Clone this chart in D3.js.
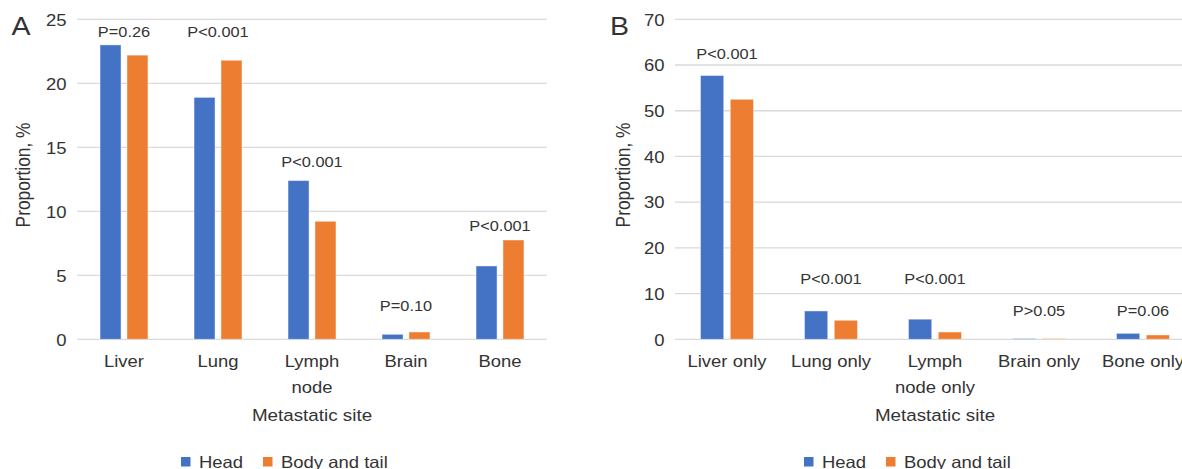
<!DOCTYPE html>
<html>
<head>
<meta charset="utf-8">
<script src="https://cdn.jsdelivr.net/npm/d3@7"></script>
<style>
  body { margin: 0; background: #fff; }
  svg { display: block; }
  text { font-family: "Liberation Sans", Arial, sans-serif; fill: #333; }
</style>
</head>
<body>
<div id="chart"></div>
<script>
// Series shared by both panels
var series = ["Head", "Body and tail"];
var colors = ["#4472C4", "#ED7D31"];

// Panel A: any metastasis
var sitesA = [["Liver"], ["Lung"], ["Lymph", "node"], ["Brain"], ["Bone"]];
var headA = [23.0, 18.9, 12.4, 0.39, 5.73];
var bodyA = [22.2, 21.8, 9.22, 0.57, 7.76];
var pTextA = ["P=0.26", "P<0.001", "P<0.001", "P=0.10", "P<0.001"];
var pLevelA = [23.6, 23.6, 13.5, 2.2, 8.45];   // where the p-value note sits, in axis units
var ticksA = [0, 5, 10, 15, 20, 25];

// Panel B: single-site metastasis
var sitesB = [["Liver only"], ["Lung only"], ["Lymph", "node only"], ["Brain only"], ["Bone only"]];
var headB = [57.7, 6.2, 4.4, 0.15, 1.3];
var bodyB = [52.5, 4.16, 1.6, 0.15, 0.95];
var pTextB = ["P<0.001", "P<0.001", "P<0.001", "P>0.05", "P=0.06"];
var pLevelB = [61.25, 12.1, 12.1, 5.16, 5.16];
var ticksB = [0, 10, 20, 30, 40, 50, 60, 70];

var W = 1182, H = 469;
var SX = 1.12; // the source picture is a bit wider than tall, so text is stretched too

var svg = d3.select("#chart").append("svg")
    .attr("width", W)
    .attr("height", H);

svg.append("rect").attr("width", W).attr("height", H).attr("fill", "#fff");

// text helper with the horizontal stretch
function label(g, x, y, str, size, anchor, rot) {
    return g.append("text")
        .attr("transform", "translate(" + x + "," + y + ") scale(" + SX + ",1)" + (rot ? " rotate(" + rot + ")" : ""))
        .attr("text-anchor", anchor || "middle")
        .style("font-size", size + "px")
        .text(str);
}

function drawPanel(p) {
    var g = svg.append("g");
    var top = 19.3, bottom = 339.3;

    var y = d3.scaleLinear().domain([0, d3.max(p.ticks)]).range([bottom, top]);
    var keys = p.sites.map(function(d) { return d.join(" "); });
    var x0 = d3.scaleBand().domain(keys).range([p.left, p.right]);
    var bw = x0.bandwidth();
    var x1 = d3.scaleBand().domain(series)
        .range([bw / 2 - bw * 0.255, bw / 2 + bw * 0.255])
        .paddingInner(0.22);

    // gridlines
    g.selectAll("line.grid").data(p.ticks).enter().append("line")
        .attr("x1", p.left).attr("x2", p.right)
        .attr("y1", function(d) { return y(d); })
        .attr("y2", function(d) { return y(d); })
        .attr("stroke", "#d9d9d9")
        .attr("stroke-width", 1.3);

    // tick labels
    p.ticks.forEach(function(t) {
        label(g, p.left - 10.5, y(t) + 6.3, t, 16.5, "end");
    });

    // bars
    var rows = keys.map(function(k, i) {
        return { key: k, vals: [p.head[i], p.body[i]] };
    });
    var grp = g.selectAll("g.site").data(rows).enter().append("g")
        .attr("transform", function(d) { return "translate(" + x0(d.key) + ",0)"; });
    grp.selectAll("rect")
        .data(function(d) { return d.vals.map(function(v, j) { return { s: series[j], v: v, c: colors[j] }; }); })
        .enter().append("rect")
        .attr("x", function(d) { return x1(d.s); })
        .attr("y", function(d) { return y(d.v); })
        .attr("width", x1.bandwidth())
        .attr("height", function(d) { return bottom - y(d.v); })
        .attr("fill", function(d) { return d.c; })
        .attr("stroke", "#fff")
        .attr("stroke-opacity", 0.45)
        .attr("stroke-width", 1);

    // p-value notes
    keys.forEach(function(k, i) {
        label(g, x0(k) + bw / 2, y(p.pLevel[i]), p.pText[i], 14.6);
    });

    // category labels (can be two lines)
    p.sites.forEach(function(lines, i) {
        lines.forEach(function(line, j) {
            label(g, x0(keys[i]) + bw / 2, 366.5 + j * 26.5, line, 16.5);
        });
    });

    var mid = (p.left + p.right) / 2;
    label(g, mid, 421, "Metastatic site", 16.8);
    label(g, p.titleX, 175, "Proportion, %", 17.3, "middle", -90);
    label(g, p.letterX, 35, p.letter, 25.5, "start");

    // legend
    var lx = mid - 131;
    series.forEach(function(s, i) {
        var ix = lx + i * 82;
        g.append("rect")
            .attr("x", ix).attr("y", 457)
            .attr("width", 9.5).attr("height", 9.5)
            .attr("fill", colors[i]);
        label(g, ix + 18, 467.5, s, 16.5, "start");
    });
}

drawPanel({
    letter: "A", letterX: 11.5, titleX: 29.5,
    left: 77, right: 547,
    sites: sitesA, head: headA, body: bodyA,
    pText: pTextA, pLevel: pLevelA, ticks: ticksA
});

drawPanel({
    letter: "B", letterX: 610, titleX: 629.5,
    left: 675, right: 1195,
    sites: sitesB, head: headB, body: bodyB,
    pText: pTextB, pLevel: pLevelB, ticks: ticksB
});
</script>
</body>
</html>
